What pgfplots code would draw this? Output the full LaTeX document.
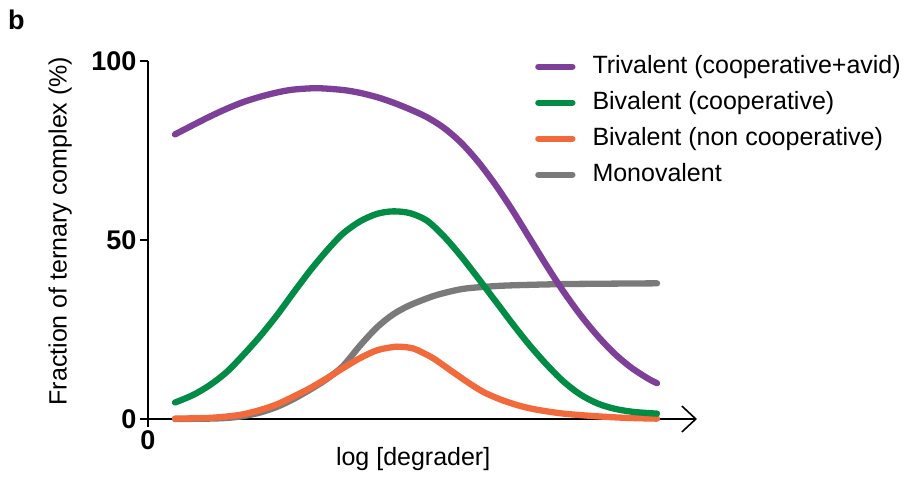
\documentclass[border=0pt]{standalone}
\usepackage{pgfplots}
\pgfplotsset{compat=1.18}
\usepackage{fontspec}
\setmainfont{Liberation Sans}
\usetikzlibrary{arrows.meta}
\definecolor{cpurple}{HTML}{7E3F98}
\definecolor{cgreen}{HTML}{008C45}
\definecolor{corange}{HTML}{F26A3C}
\definecolor{cgray}{HTML}{7A7A7A}
\begin{document}
\begin{tikzpicture}[x=1pt,y=1pt]
\useasboundingbox (0,0) rectangle (913,477);
\node[anchor=base west, inner sep=0pt, font=\fontsize{27}{30}\selectfont\bfseries] at (8,447) {b};
\begin{axis}[
  at={(148pt,58pt)}, anchor=south west,
  scale only axis, width=549pt, height=358pt,
  xmin=0, xmax=549, ymin=0, ymax=100,
  axis lines=left,
  axis line style={line width=1.6pt, black},
  x axis line style={-{Straight Barb[length=14pt,width=26pt,line width=1.6pt]}},
  y axis line style={-},
  xtick={0}, ytick={0,50,100},
  tick align=outside, major tick length=8pt,
  tick style={line width=1.6pt, black},
  ticklabel style={font=\fontsize{27}{30}\selectfont\bfseries},
  /pgf/number format/assume math mode=true,
  xlabel={log [degrader]},
  ylabel={Fraction of ternary complex (\%)},
  label style={font=\fontsize{25}{30}\selectfont},
  xlabel style={at={(axis description cs:0.483,-0.078)}, anchor=north, inner sep=0pt},
  ylabel style={at={(axis description cs:-0.16,0.525)}, anchor=center, inner sep=0pt},
  clip=false,
  reverse legend=true,
  legend cell align=left,
  legend style={at={(axis description cs:0.694,1.022)}, anchor=north west, draw=none, fill=none,
    font=\fontsize{25}{30}\selectfont,
    nodes={inner sep=0pt, text height=18pt, text depth=5pt},
    row sep=13pt,
    /tikz/every odd column/.append style={column sep=14pt}},
  legend image code/.code={\draw[#1, line cap=round] (3pt,0pt) -- (37pt,0pt); \path (0pt,-3pt) (40pt,3pt);},
  every axis plot/.append style={line width=6.3pt, line cap=round, smooth},
]
\addplot[cgray] coordinates {
(27,0.0) (60,0.1) (79,0.3) (95,0.8) (112,1.8) (129,3.4) (145,5.5) (162,8.2) (179,11.2) (195,14.8)
(212,20.5) (229,25.6) (245,29.2) (262,31.8) (285,34.3) (302,35.6) (319,36.5) (352,37.2) (385,37.5)
(419,37.7) (460,37.8) (509,37.9)};
\addlegendentry{Monovalent}
\addplot[corange] coordinates {
(27,0.1) (60,0.3) (79,0.7) (95,1.3) (112,2.5) (129,4.1) (145,6.2) (162,8.6) (179,11.4) (195,14.2)
(212,17.0) (229,19.2) (245,20.1) (252,20.2) (262,19.9) (269,19.3) (285,17.0) (302,13.7) (319,10.4)
(335,7.6) (352,5.5) (369,3.9) (385,2.8) (402,2.0) (419,1.4) (452,0.7) (480,0.3) (509,0.1)};
\addlegendentry{Bivalent (non cooperative)}
\addplot[cgreen] coordinates {
(27,4.6) (45,6.7) (62,9.5) (79,13.2) (95,17.8) (112,23.1) (129,29.0) (145,35.1) (162,41.4) (179,47.1)
(195,51.8) (212,55.2) (229,57.3) (245,58.0) (262,57.5) (279,55.4) (296,51.0) (313,45.5)
(330,39.4) (347,33.1) (364,26.8) (381,20.8) (398,15.4) (415,10.6) (432,6.9) (449,4.4) (466,2.9)
(485,2.0) (509,1.5)};
\addlegendentry{Bivalent (cooperative)}
\addplot[cpurple] coordinates {
(27,79.5) (45,82.1) (62,84.5) (79,86.7) (95,88.5) (112,90.0) (129,91.2) (145,92.0) (169,92.4)
(195,91.9) (212,91.1) (229,89.9) (245,88.4) (262,86.5) (279,84.3) (296,81.3) (313,77.2) (330,71.9)
(347,65.6) (364,58.5) (381,50.8) (398,43.1) (415,35.8) (432,29.2) (449,23.4) (466,18.4)
(483,14.4) (500,11.3) (509,10.0)};
\addlegendentry{Trivalent (cooperative+avid)}
\end{axis}
\end{tikzpicture}
\end{document}
